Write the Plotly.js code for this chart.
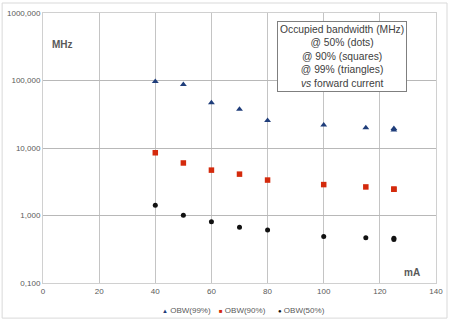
<!DOCTYPE html>
<html>
<head>
<meta charset="utf-8">
<script src="https://cdn.plot.ly/plotly-3.0.1.min.js"></script>
<style>html,body{margin:0;padding:0;background:#fff;}#chart{width:450px;height:320px;}</style>
</head>
<body>
<div id="chart"></div>
<script>
// Forward current (mA)
const current = [40, 50, 60, 70, 80, 100, 115, 125, 125];
// Occupied bandwidth (MHz)
const obw99 = [97, 87, 47, 37.5, 25.5, 22, 20, 19.5, 18.5];
const obw90 = [8.5, 6.0, 4.7, 4.1, 3.35, 2.87, 2.65, 2.45, 2.45];
const obw50 = [1.42, 1.01, 0.81, 0.67, 0.61, 0.49, 0.47, 0.46, 0.44];

const yTickVals = [0.1, 1, 10, 100, 1000];
const yTickText = ["0,100", "1,000", "10,000", "100,000", "1000,000"];
const xTickVals = [0, 20, 40, 60, 80, 100, 120, 140];

const names = ["OBW(99%)", "OBW(90%)", "OBW(50%)"];
const colors = ["#1f3d7a", "#d42a0c", "#111111"];
const legendSymbols = ["▲", "■", "●"];

const grey = "#595959";
const fontFam = "Liberation Sans, Arial, sans-serif";

const traces = [
  {x: current, y: obw99, name: names[0], type: "scatter", mode: "markers",
   marker: {symbol: "triangle-up", size: 6, color: colors[0]}},
  {x: current, y: obw90, name: names[1], type: "scatter", mode: "markers",
   marker: {symbol: "square", size: 5.5, color: colors[1]}},
  {x: current, y: obw50, name: names[2], type: "scatter", mode: "markers",
   marker: {symbol: "circle", size: 5, color: colors[2]}}
];

const legendX = [0.298, 0.443, 0.593];
const legendAnn = names.map((n, i) => ({
  xref: "paper", yref: "paper", x: legendX[i], y: -0.1, xanchor: "left", yanchor: "middle",
  showarrow: false,
  text: '<span style="font-size:6px;color:' + colors[i] + '">' + legendSymbols[i] + '</span> ' + n,
  font: {size: 8, color: grey}
}));

const layout = {
  width: 450, height: 320,
  margin: {l: 43, r: 14, t: 13, b: 37, autoexpand: false},
  paper_bgcolor: "#ffffff", plot_bgcolor: "#ffffff",
  font: {family: fontFam, size: 8, color: grey},
  showlegend: false,
  xaxis: {range: [0, 140], tickvals: xTickVals, showgrid: true, gridcolor: "#c4c4c4",
          gridwidth: 1, zeroline: false, showline: true, linecolor: "#d0d0d0",
          mirror: true, ticks: "", tickfont: {size: 8, color: grey}, fixedrange: true},
  yaxis: {type: "log", range: [-1, 3], tickvals: yTickVals, ticktext: yTickText,
          showgrid: true, gridcolor: "#b8b8b8", gridwidth: 1, zeroline: false,
          showline: true, linecolor: "#d0d0d0", mirror: true, ticks: "",
          tickfont: {size: 8, color: grey}, fixedrange: true},
  annotations: [
    {xref: "paper", yref: "paper", x: 0.018, y: 0.885, xanchor: "left", yanchor: "middle",
     text: "<b>MHz</b>", showarrow: false, font: {size: 10, color: grey}},
    {xref: "paper", yref: "paper", x: 0.965, y: 0.04, xanchor: "right", yanchor: "middle",
     text: "<b>mA</b>", showarrow: false, font: {size: 10, color: grey}},
    {xref: "paper", yref: "paper", x: 0.76, y: 0.97, xanchor: "center", yanchor: "top",
     text: "Occupied bandwidth (MHz)<br>@ 50% (dots)<br>@ 90% (squares)<br>@ 99% (triangles)<br><i>vs</i> forward current",
     showarrow: false, align: "center", font: {size: 10.3, color: "#404040"},
     bgcolor: "#ffffff", bordercolor: "#7f7f7f", borderwidth: 1, borderpad: 2}
  ].concat(legendAnn),
  shapes: [
    {type: "rect", xref: "paper", yref: "paper", x0: -0.104, x1: 1.028, y0: -0.13, y1: 1.037,
     line: {color: "#d9d9d9", width: 1}, fillcolor: "rgba(0,0,0,0)", layer: "below"}
  ]
};

Plotly.newPlot("chart", traces, layout, {displayModeBar: false, staticPlot: true});
</script>
</body>
</html>
